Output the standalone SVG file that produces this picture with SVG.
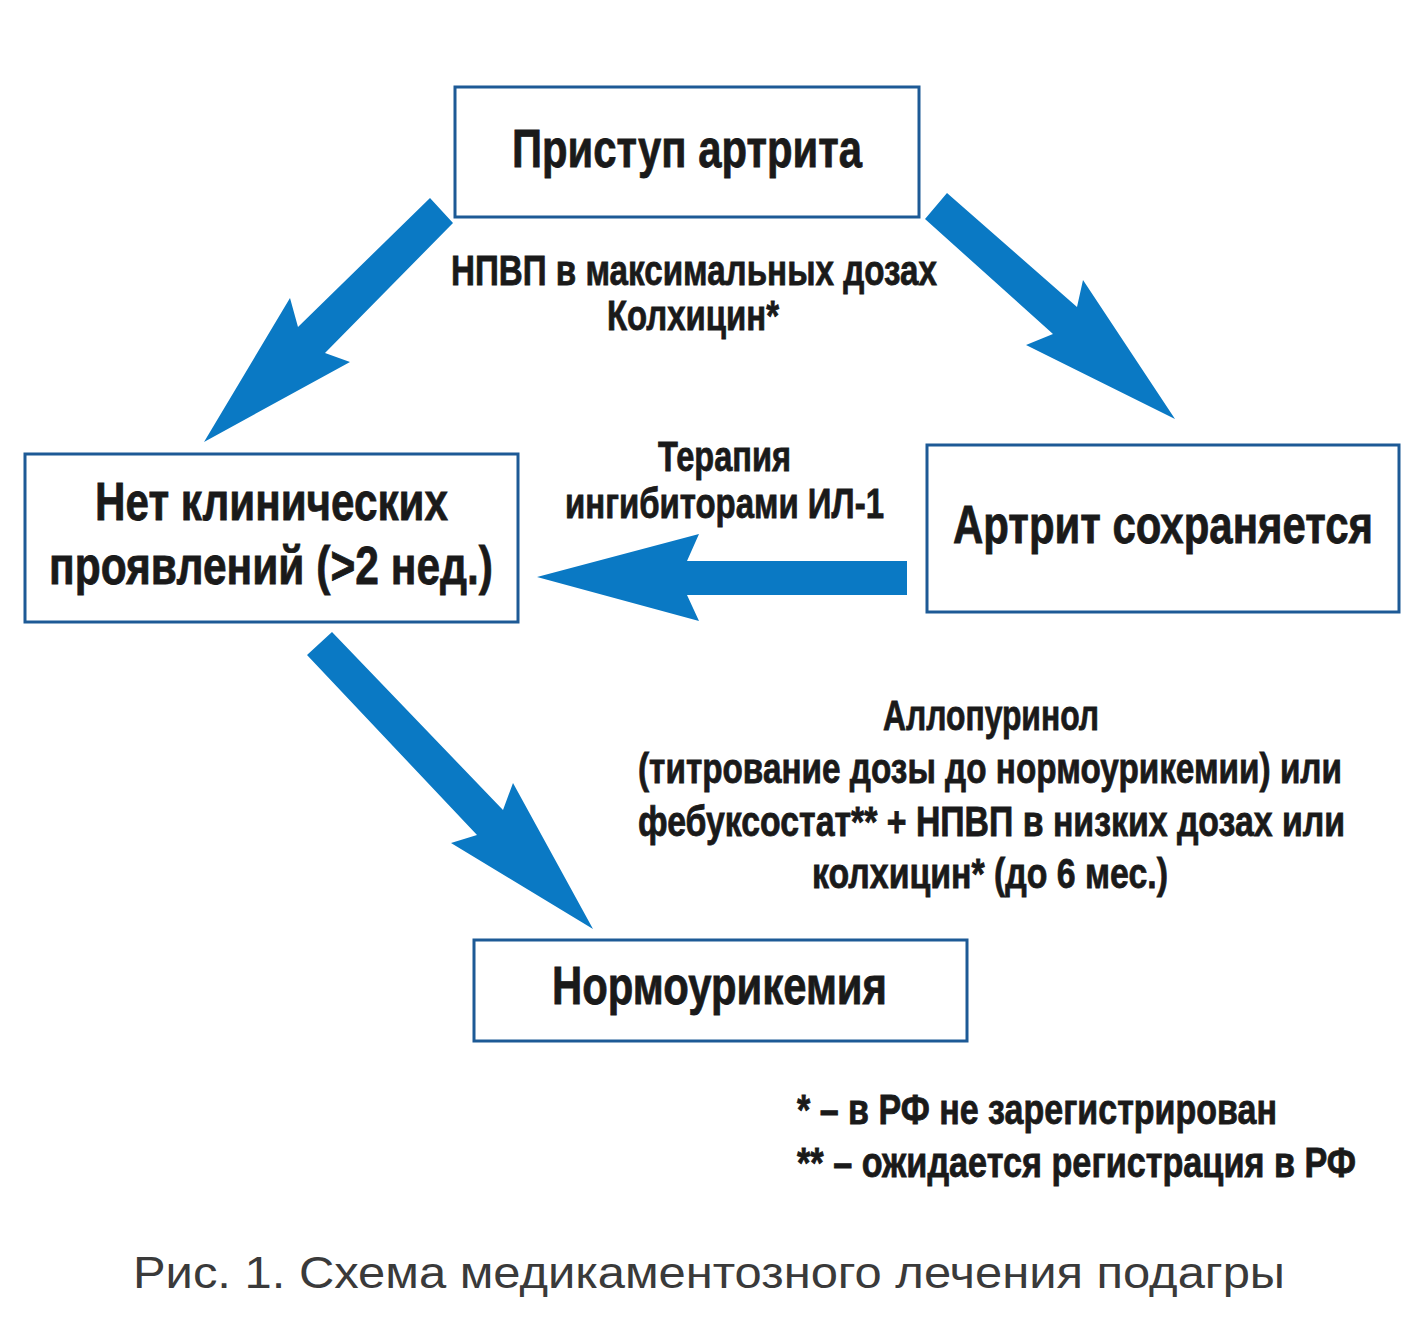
<svg xmlns="http://www.w3.org/2000/svg" width="1417" height="1339" viewBox="0 0 1417 1339">
<style>
.box{fill:#ffffff;stroke:#1d5a96;stroke-width:3}
.arr{fill:#0a79c4}
.t{font-family:"Liberation Sans",Arial,sans-serif;font-weight:bold;fill:#1a1a1a;stroke:#1a1a1a;stroke-width:0.8}
.big{font-size:54px}
.lab{font-size:42px}
.cap{font-family:"Liberation Sans",Arial,sans-serif;font-size:45px;fill:#3a3a3a}
</style>
<rect width="1417" height="1339" fill="#ffffff"/>
<g id="connectors">
<polygon class="arr" points="430,198 453,223 325,353 350,362 204,442 290,298 298,327"/>
<polygon class="arr" points="947,193 1077,307 1083,280 1175,419 1026,345 1053,334 925,219"/>
<polygon class="arr" points="907,561 687,561 699,534 537,577 699,621 687,595 907,595"/>
<polygon class="arr" points="332,632 503,810 513,783 593,929 451,843 477,835 307,655"/>
</g>
<g id="node-pristup">
<rect class="box" x="455" y="87" width="464" height="130"/>
<text class="t big" transform="translate(512,167) scale(0.76,1)" textLength="460.5" lengthAdjust="spacingAndGlyphs">Приступ артрита</text>
</g>
<g id="node-net">
<rect class="box" x="25" y="454" width="493" height="168"/>
<text class="t big" transform="translate(95,520) scale(0.76,1)" textLength="464.5" lengthAdjust="spacingAndGlyphs">Нет клинических</text>
<text class="t big" transform="translate(49,584) scale(0.76,1)" textLength="584.2" lengthAdjust="spacingAndGlyphs">проявлений (&gt;2 нед.)</text>
</g>
<g id="node-artrit">
<rect class="box" x="927" y="445" width="472" height="167"/>
<text class="t big" transform="translate(953,543) scale(0.76,1)" textLength="552.6" lengthAdjust="spacingAndGlyphs">Артрит сохраняется</text>
</g>
<g id="node-normo">
<rect class="box" x="474" y="940" width="493" height="101"/>
<text class="t big" transform="translate(552,1004) scale(0.76,1)" textLength="440.8" lengthAdjust="spacingAndGlyphs">Нормоурикемия</text>
</g>
<g id="labels">
<text class="t lab" transform="translate(451,285) scale(0.76,1)" textLength="639.5" lengthAdjust="spacingAndGlyphs">НПВП в максимальных дозах</text>
<text class="t lab" transform="translate(607,330) scale(0.76,1)" textLength="226.3" lengthAdjust="spacingAndGlyphs">Колхицин*</text>
<text class="t lab" transform="translate(658,471) scale(0.76,1)" textLength="175" lengthAdjust="spacingAndGlyphs">Терапия</text>
<text class="t lab" transform="translate(565,518) scale(0.76,1)" textLength="419.7" lengthAdjust="spacingAndGlyphs">ингибиторами ИЛ-1</text>
<text class="t lab" transform="translate(883,730) scale(0.76,1)" textLength="284.2" lengthAdjust="spacingAndGlyphs">Аллопуринол</text>
<text class="t lab" transform="translate(638,783) scale(0.76,1)" textLength="926.3" lengthAdjust="spacingAndGlyphs">(титрование дозы до нормоурикемии) или</text>
<text class="t lab" transform="translate(638,836) scale(0.76,1)" textLength="930.3" lengthAdjust="spacingAndGlyphs">фебуксостат** + НПВП в низких дозах или</text>
<text class="t lab" transform="translate(812,888) scale(0.76,1)" textLength="468.4" lengthAdjust="spacingAndGlyphs">колхицин* (до 6 мес.)</text>
<text class="t lab" transform="translate(797,1124) scale(0.76,1)" textLength="631.6" lengthAdjust="spacingAndGlyphs">* – в РФ не зарегистрирован</text>
<text class="t lab" transform="translate(797,1177) scale(0.76,1)" textLength="735.5" lengthAdjust="spacingAndGlyphs">** – ожидается регистрация в РФ</text>
<text class="cap" x="133" y="1288" textLength="1152" lengthAdjust="spacingAndGlyphs">Рис. 1. Схема медикаментозного лечения подагры</text>
</g>
</svg>
